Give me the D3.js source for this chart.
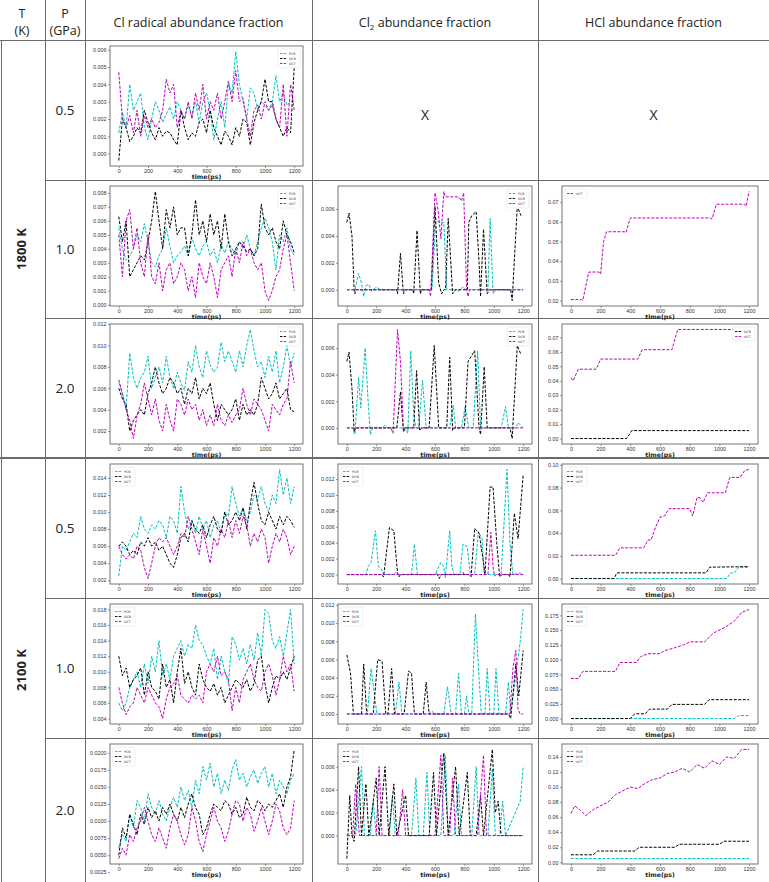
<!DOCTYPE html>
<html>
<head>
<meta charset="utf-8">
<script src="https://cdn.jsdelivr.net/npm/d3@7"></script>
<style>
  body { margin: 0; background: #fff; }
  svg { display: block; }
</style>
</head>
<body>
<div id="table"></div>
<script>
// ---- data ----
const timeSteps = [0,25,50,75,100,125,150,175,200,225,250,275,300,325,350,375,400,425,450,475,500,525,550,575,600,625,650,675,700,725,750,775,800,825,850,875,900,925,950,975,1000,1025,1050,1075,1100,1125,1150,1175,1200];
const xTicks = [0, 200, 400, 600, 800, 1000, 1200];
const seriesNames = ['PCB', 'DCB', 'OCT'];
const pressures = ['0.5', '1.0', '2.0', '0.5', '1.0', '2.0'];
const temperatures = ['1800 K', '2100 K'];
const columnTitles = ['Cl radical abundance fraction', 'Cl2 abundance fraction', 'HCl abundance fraction'];

// Cl radical, 1800 K, 0.5 GPa
const clr1800_05_pcb = [0.0012,0.0024,0.0015,0.0040,0.0025,0.0030,0.0035,0.0015,0.0008,0.0020,0.0030,0.0025,0.0018,0.0023,0.0027,0.0020,0.0030,0.0025,0.0020,0.0028,0.0022,0.0030,0.0018,0.0030,0.0035,0.0025,0.0008,0.0020,0.0030,0.0015,0.0040,0.0035,0.0059,0.0040,0.0030,0.0020,0.0038,0.0035,0.0025,0.0030,0.0028,0.0025,0.0030,0.0045,0.0030,0.0035,0.0028,0.0030,0.0030];
const clr1800_05_dcb = [-0.0004,0.0020,0.0015,0.0007,0.0010,0.0015,0.0012,0.0025,0.0018,0.0012,0.0008,0.0015,0.0010,0.0013,0.0012,0.0008,0.0005,0.0025,0.0015,0.0008,0.0012,0.0010,0.0018,0.0020,0.0012,0.0025,0.0015,0.0010,0.0005,0.0013,0.0010,0.0005,0.0015,0.0010,0.0020,0.0018,0.0005,0.0018,0.0025,0.0030,0.0043,0.0030,0.0030,0.0020,0.0015,0.0010,0.0015,0.0012,0.0050];
const clr1800_05_oct = [0.0047,0.0020,0.0015,0.0022,0.0012,0.0025,0.0010,0.0022,0.0015,0.0020,0.0015,0.0018,0.0025,0.0043,0.0035,0.0040,0.0015,0.0025,0.0020,0.0030,0.0020,0.0035,0.0025,0.0040,0.0020,0.0030,0.0025,0.0035,0.0020,0.0030,0.0042,0.0030,0.0048,0.0030,0.0032,0.0020,0.0010,0.0025,0.0028,0.0020,0.0030,0.0025,0.0028,0.0020,0.0015,0.0040,0.0010,0.0040,0.0025];
// Cl radical, 1800 K, 1.0 GPa
const clr1800_10_pcb = [0.0055,0.0040,0.0032,0.0035,0.0040,0.0050,0.0045,0.0058,0.0045,0.0030,0.0027,0.0035,0.0040,0.0055,0.0042,0.0030,0.0035,0.0038,0.0042,0.0035,0.0048,0.0040,0.0035,0.0042,0.0045,0.0035,0.0040,0.0030,0.0043,0.0037,0.0045,0.0040,0.0035,0.0045,0.0040,0.0050,0.0040,0.0035,0.0045,0.0055,0.0062,0.0055,0.0045,0.0025,0.0050,0.0045,0.0055,0.0040,0.0035];
const clr1800_10_dcb = [0.0063,0.0045,0.0060,0.0020,0.0025,0.0030,0.0035,0.0032,0.0045,0.0060,0.0081,0.0060,0.0040,0.0068,0.0055,0.0070,0.0050,0.0055,0.0055,0.0035,0.0050,0.0075,0.0050,0.0060,0.0045,0.0065,0.0050,0.0060,0.0040,0.0065,0.0045,0.0035,0.0040,0.0045,0.0042,0.0038,0.0040,0.0035,0.0040,0.0072,0.0055,0.0050,0.0055,0.0045,0.0040,0.0060,0.0050,0.0045,0.0037];
const clr1800_10_oct = [0.0050,0.0020,0.0060,0.0068,0.0040,0.0055,0.0030,0.0020,0.0050,0.0020,0.0015,0.0030,0.0010,0.0025,0.0030,0.0015,0.0020,0.0030,0.0025,0.0010,0.0020,0.0005,0.0030,0.0020,0.0015,0.0030,0.0020,0.0005,0.0025,0.0030,0.0035,0.0020,0.0040,0.0030,0.0045,0.0035,0.0040,0.0030,0.0025,0.0030,0.0010,0.0003,0.0010,0.0020,0.0025,0.0040,0.0050,0.0030,0.0010];
// Cl radical, 1800 K, 2.0 GPa
const clr1800_20_pcb = [0.0065,0.0055,0.0040,0.0093,0.0070,0.0060,0.0070,0.0075,0.0090,0.0060,0.0070,0.0080,0.0065,0.0090,0.0070,0.0060,0.0075,0.0065,0.0058,0.0085,0.0075,0.0100,0.0080,0.0070,0.0095,0.0082,0.0075,0.0080,0.0103,0.0085,0.0095,0.0085,0.0075,0.0095,0.0080,0.0100,0.0115,0.0095,0.0080,0.0085,0.0070,0.0090,0.0075,0.0095,0.0065,0.0080,0.0100,0.0080,0.0093];
const clr1800_20_dcb = [0.0060,0.0050,0.0045,0.0020,0.0030,0.0035,0.0040,0.0035,0.0055,0.0065,0.0080,0.0065,0.0055,0.0060,0.0070,0.0065,0.0055,0.0060,0.0045,0.0060,0.0055,0.0070,0.0050,0.0060,0.0055,0.0065,0.0045,0.0030,0.0045,0.0040,0.0035,0.0040,0.0050,0.0030,0.0045,0.0035,0.0040,0.0035,0.0045,0.0070,0.0060,0.0050,0.0055,0.0065,0.0050,0.0055,0.0060,0.0040,0.0038];
const clr1800_20_oct = [0.0068,0.0055,0.0040,0.0030,0.0013,0.0035,0.0045,0.0065,0.0050,0.0035,0.0050,0.0030,0.0020,0.0045,0.0030,0.0020,0.0050,0.0045,0.0035,0.0050,0.0040,0.0045,0.0030,0.0040,0.0025,0.0035,0.0025,0.0045,0.0030,0.0025,0.0035,0.0028,0.0035,0.0040,0.0060,0.0045,0.0035,0.0050,0.0045,0.0040,0.0030,0.0020,0.0045,0.0040,0.0035,0.0045,0.0050,0.0085,0.0065];
// Cl radical, 2100 K, 0.5 GPa
const clr2100_05_pcb = [0.0025,0.0060,0.0055,0.0065,0.0075,0.0070,0.0095,0.0080,0.0075,0.0085,0.0080,0.0090,0.0085,0.0070,0.0095,0.0090,0.0075,0.0130,0.0100,0.0080,0.0090,0.0075,0.0095,0.0080,0.0090,0.0070,0.0085,0.0090,0.0075,0.0100,0.0095,0.0130,0.0110,0.0095,0.0105,0.0090,0.0100,0.0120,0.0115,0.0130,0.0110,0.0100,0.0120,0.0110,0.0150,0.0120,0.0140,0.0110,0.0130];
const clr2100_05_dcb = [0.0060,0.0065,0.0060,0.0050,0.0055,0.0050,0.0065,0.0060,0.0070,0.0060,0.0065,0.0055,0.0060,0.0050,0.0040,0.0035,0.0050,0.0070,0.0075,0.0065,0.0090,0.0080,0.0075,0.0085,0.0070,0.0085,0.0095,0.0080,0.0075,0.0100,0.0085,0.0090,0.0100,0.0090,0.0105,0.0080,0.0110,0.0135,0.0110,0.0090,0.0085,0.0100,0.0090,0.0080,0.0095,0.0085,0.0095,0.0090,0.0082];
const clr2100_05_oct = [0.0060,0.0050,0.0045,0.0050,0.0045,0.0060,0.0055,0.0035,0.0022,0.0040,0.0060,0.0070,0.0065,0.0070,0.0060,0.0050,0.0060,0.0075,0.0070,0.0095,0.0080,0.0065,0.0050,0.0080,0.0060,0.0040,0.0070,0.0060,0.0080,0.0070,0.0090,0.0070,0.0090,0.0075,0.0095,0.0085,0.0060,0.0075,0.0065,0.0080,0.0070,0.0040,0.0060,0.0075,0.0065,0.0080,0.0070,0.0050,0.0060];
// Cl radical, 2100 K, 1.0 GPa
const clr2100_10_pcb = [0.0060,0.0050,0.0060,0.0080,0.0090,0.0100,0.0080,0.0110,0.0085,0.0120,0.0100,0.0140,0.0095,0.0110,0.0090,0.0120,0.0130,0.0140,0.0120,0.0135,0.0130,0.0160,0.0140,0.0135,0.0120,0.0110,0.0130,0.0090,0.0120,0.0100,0.0085,0.0145,0.0135,0.0115,0.0130,0.0110,0.0135,0.0115,0.0150,0.0120,0.0180,0.0175,0.0140,0.0130,0.0145,0.0120,0.0150,0.0180,0.0110];
const clr2100_10_dcb = [0.0120,0.0095,0.0105,0.0080,0.0090,0.0095,0.0105,0.0070,0.0100,0.0080,0.0075,0.0065,0.0110,0.0080,0.0090,0.0060,0.0100,0.0130,0.0085,0.0100,0.0080,0.0070,0.0110,0.0090,0.0080,0.0075,0.0085,0.0070,0.0080,0.0060,0.0070,0.0080,0.0090,0.0085,0.0080,0.0090,0.0075,0.0085,0.0115,0.0120,0.0085,0.0060,0.0080,0.0095,0.0090,0.0100,0.0090,0.0105,0.0120];
const clr2100_10_oct = [0.0080,0.0060,0.0045,0.0055,0.0060,0.0080,0.0070,0.0060,0.0080,0.0070,0.0060,0.0055,0.0040,0.0065,0.0080,0.0085,0.0095,0.0070,0.0065,0.0060,0.0070,0.0065,0.0070,0.0060,0.0100,0.0110,0.0100,0.0120,0.0095,0.0100,0.0090,0.0050,0.0080,0.0060,0.0090,0.0100,0.0110,0.0090,0.0080,0.0075,0.0100,0.0110,0.0095,0.0070,0.0090,0.0120,0.0100,0.0110,0.0075];
// Cl radical, 2100 K, 2.0 GPa
const clr2100_20_pcb = [0.0060,0.0080,0.0070,0.0110,0.0090,0.0130,0.0120,0.0100,0.0140,0.0120,0.0110,0.0130,0.0110,0.0100,0.0120,0.0135,0.0120,0.0150,0.0130,0.0145,0.0120,0.0160,0.0140,0.0180,0.0160,0.0185,0.0150,0.0170,0.0140,0.0160,0.0145,0.0175,0.0190,0.0160,0.0170,0.0150,0.0165,0.0175,0.0155,0.0170,0.0180,0.0150,0.0170,0.0140,0.0160,0.0150,0.0140,0.0160,0.0170];
const clr2100_20_dcb = [0.0050,0.0090,0.0075,0.0110,0.0095,0.0080,0.0110,0.0095,0.0120,0.0105,0.0115,0.0100,0.0120,0.0110,0.0125,0.0110,0.0100,0.0120,0.0105,0.0125,0.0140,0.0120,0.0110,0.0080,0.0090,0.0110,0.0125,0.0120,0.0115,0.0130,0.0125,0.0110,0.0120,0.0105,0.0110,0.0135,0.0120,0.0115,0.0130,0.0125,0.0115,0.0125,0.0120,0.0130,0.0140,0.0120,0.0150,0.0165,0.0205];
const clr2100_20_oct = [0.0045,0.0060,0.0050,0.0080,0.0070,0.0090,0.0100,0.0120,0.0100,0.0080,0.0070,0.0090,0.0075,0.0060,0.0090,0.0110,0.0100,0.0080,0.0065,0.0080,0.0120,0.0100,0.0070,0.0055,0.0080,0.0100,0.0120,0.0100,0.0090,0.0070,0.0085,0.0110,0.0130,0.0125,0.0100,0.0120,0.0110,0.0085,0.0100,0.0120,0.0100,0.0080,0.0100,0.0125,0.0115,0.0090,0.0080,0.0090,0.0130];

// Cl2, [time, value] pairs
const cl2_1800_10_pcb = [[0,0],[55,0],[80,0.0012],[100,0.0005],[115,-0.0005],[130,0.0003],[150,0.0004],[170,-0.0001],[200,0.0002],[230,0],[580,0],[605,0.0053],[625,0.005],[660,0.005],[680,0],[740,0],[760,-0.0001],[790,0.0002],[810,0],[960,0],[975,0.0053],[995,-0.0003],[1010,0],[1200,0]];
const cl2_1800_10_dcb = [[0,0.005],[15,0.0057],[35,0.004],[50,0],[55,-0.0003],[60,0],[340,0],[345,-0.0003],[365,0.0027],[385,-0.0003],[395,0],[450,0],[455,-0.0003],[478,0.0044],[500,-0.0003],[510,0],[575,0],[600,0.0062],[625,0.0005],[645,-0.0003],[660,0],[672,0],[690,0.0053],[720,-0.0003],[740,0],[820,0],[830,0.005],[850,0.0055],[880,0.0058],[900,0.002],[910,-0.0005],[930,0.0045],[955,-0.0003],[970,0],[1115,0],[1125,-0.0008],[1160,0.0062],[1185,0.0055]];
const cl2_1800_10_oct = [[0,0],[560,0],[570,-0.0005],[600,0.0072],[620,0.006],[640,0.0038],[660,0.0073],[670,0.0069],[760,0.0069],[780,0.0066],[795,0.0072],[815,0],[825,-0.0005],[835,0],[1200,0]];
const cl2_1800_20_pcb = [[0,0],[40,0],[55,-0.0005],[80,0.0038],[95,0.0015],[125,0.006],[145,0.002],[160,-0.0005],[175,0],[240,0],[260,0.0002],[280,0],[400,0],[415,-0.0004],[435,0.0058],[455,0.001],[470,0],[490,0],[515,0.0036],[540,0],[700,0],[725,0.0017],[740,0],[780,0],[805,0.0016],[830,0],[860,0],[890,0.0058],[910,0],[1050,0],[1080,0.0016],[1100,0],[1150,0],[1165,0.0004],[1200,0]];
const cl2_1800_20_dcb = [[0,0.005],[15,0.0057],[35,0.003],[50,-0.0003],[60,0],[340,0],[365,0.0027],[385,-0.0003],[400,0],[455,0],[475,0.0043],[495,-0.0002],[510,0],[560,0],[595,0.0062],[625,0],[680,0],[700,0.0053],[720,-0.0002],[735,0],[800,0],[825,0.005],[870,0.0058],[900,0],[910,-0.0005],[935,0.0046],[955,0],[1110,0],[1125,-0.0008],[1160,0.0062],[1185,0.0055]];
const cl2_1800_20_oct = [[0,0],[300,0],[315,-0.0004],[345,0.0074],[365,0.005],[385,0],[1200,0]];
const cl2_2100_05_pcb = [[0,0],[130,0],[145,0.001],[165,0.0015],[195,0.0055],[215,0.001],[235,0.0007],[250,0],[320,0],[335,0.0003],[350,0],[440,0],[460,0.0038],[480,0],[600,0],[640,0.0015],[660,0.001],[670,-0.0004],[700,0.0055],[715,0.001],[730,0],[770,0],[790,0.0038],[820,0.0035],[840,0],[870,0],[895,0.0054],[920,0.0045],[935,0],[1050,0],[1090,0.0132],[1110,0.004],[1130,0],[1180,0.0002],[1200,0]];
const cl2_2100_05_dcb = [[0,0],[240,0],[250,-0.0003],[290,0.0059],[320,0.0055],[345,0.0002],[355,-0.0003],[365,0],[600,0],[610,0.0002],[630,-0.0005],[640,0],[830,0],[845,-0.0003],[870,0.0058],[900,0.0052],[930,0.0015],[940,0],[975,0.011],[995,0.011],[1020,0.004],[1040,-0.0003],[1055,0],[1100,0],[1110,-0.0003],[1140,0.0077],[1165,0.0045],[1200,0.0125]];
const cl2_2100_05_oct = [[0,0],[780,0],[790,0.0003],[800,0],[960,0],[980,0.0053],[995,0.001],[1005,-0.0002],[1015,0],[1200,0]];
const cl2_2100_10_pcb = [[0,0],[140,0],[165,0.005],[185,0.0025],[205,0],[330,0],[355,0.0035],[375,0],[550,0],[580,0.0003],[600,0],[660,0],[685,0.003],[710,0],[740,0],[760,0.0045],[780,0],[800,0],[815,0.002],[830,0],[850,0],[875,0.011],[900,0.004],[915,0],[940,0],[955,0.005],[975,0],[1000,0],[1015,0.005],[1035,0],[1080,0],[1100,0.0035],[1115,0],[1180,0.008],[1200,0.0115]];
const cl2_2100_10_dcb = [[0,0.0065],[25,0.0045],[45,0],[100,0],[115,0.0055],[135,0],[180,0],[210,0.006],[240,0.0058],[265,0],[280,0],[305,0.005],[325,0],[390,0],[420,0.0047],[440,0.0045],[460,0],[520,0],[540,0.0035],[560,0],[1100,0],[1115,-0.0005],[1150,0.0055],[1170,0.002],[1200,0.007]];
const cl2_2100_10_oct = [[0,0],[1110,0],[1130,0.005],[1150,0.007],[1165,0.0005],[1180,0],[1200,0]];
const cl2_2100_20_pcb = [[0,0],[60,0],[100,0.006],[120,0],[160,0],[180,0.003],[200,0],[290,0],[310,0.0035],[330,0],[440,0],[470,0.005],[490,0],[520,0],[545,0.0055],[565,0],[640,0],[670,0.007],[690,0],[730,0],[760,0.0045],[780,0],[850,0],[880,0.006],[900,0],[960,0],[990,0.0058],[1010,0],[1040,0],[1060,0.003],[1080,0],[1180,0.003],[1200,0.006]];
const cl2_2100_20_dcb = [[0,-0.002],[20,0.0035],[35,0],[50,-0.0005],[80,0.006],[100,0],[130,0.0045],[150,0],[200,0.005],[220,0],[260,0.006],[285,0],[320,0.0045],[340,0],[400,0.0035],[420,0],[560,0],[590,0.0055],[610,0],[660,0.0072],[690,0],[740,0.006],[765,0],[820,0.0055],[840,0],[880,0],[910,0.0035],[930,0],[990,0.0075],[1010,0.002],[1030,0.003],[1050,0],[1200,0]];
const cl2_2100_20_oct = [[0,0],[40,0],[60,0.0045],[85,0],[200,0],[220,0.006],[240,0],[350,0],[380,0.004],[400,0],[600,0],[640,0.007],[660,0],[700,0],[720,0.005],[740,0],[890,0],[930,0.007],[950,0],[1200,0]];

// HCl, [time, value] pairs
const hcl_1800_10_oct = [[0,0.0205],[70,0.0205],[80,0.02],[120,0.0345],[190,0.0345],[200,0.0335],[220,0.05],[240,0.055],[260,0.055],[360,0.055],[370,0.0545],[400,0.062],[940,0.062],[950,0.0615],[980,0.069],[1170,0.069],[1180,0.068],[1200,0.0755]];
const hcl_1800_20_dcb = [[0,0],[375,0],[410,0.0055],[1200,0.0055]];
const hcl_1800_20_oct = [[0,0.042],[15,0.04],[50,0.048],[170,0.048],[200,0.055],[450,0.055],[480,0.0615],[680,0.0615],[720,0.0755],[1200,0.0755]];
const hcl_2100_05_pcb = [[0,0],[1050,0],[1075,0.005],[1100,0.005],[1130,0.01],[1200,0.01]];
const hcl_2100_05_dcb = [[0,0],[290,0],[310,0.005],[910,0.005],[935,0.01],[1200,0.0105]];
const hcl_2100_05_oct = [[0,0.0205],[300,0.0205],[330,0.027],[490,0.027],[520,0.034],[540,0.034],[570,0.045],[600,0.054],[630,0.055],[660,0.0615],[800,0.0615],[820,0.055],[850,0.0715],[870,0.071],[890,0.067],[920,0.0755],[1040,0.0755],[1070,0.089],[1140,0.089],[1170,0.095],[1200,0.096]];
const hcl_2100_10_pcb = [[0,0],[1100,0],[1130,0.005],[1200,0.005]];
const hcl_2100_10_dcb = [[0,0],[400,0],[430,0.008],[500,0.008],[530,0.016],[650,0.016],[680,0.024],[900,0.024],[930,0.032],[1200,0.032]];
const hcl_2100_10_oct = [[0,0.068],[50,0.068],[80,0.08],[300,0.08],[330,0.095],[440,0.095],[470,0.105],[520,0.11],[600,0.11],[630,0.115],[700,0.12],[760,0.125],[800,0.13],[900,0.13],[960,0.145],[1040,0.155],[1100,0.165],[1150,0.18],[1200,0.185]];
const hcl_2100_20_pcb = [[0,0.005],[1200,0.005]];
const hcl_2100_20_dcb = [[0,0.01],[150,0.01],[180,0.015],[430,0.015],[460,0.02],[700,0.02],[730,0.024],[1000,0.024],[1030,0.028],[1200,0.028]];
const hcl_2100_20_oct = [[0,0.065],[25,0.075],[60,0.07],[100,0.062],[150,0.07],[200,0.075],[250,0.08],[300,0.09],[350,0.095],[400,0.1],[450,0.098],[500,0.105],[550,0.11],[600,0.112],[650,0.118],[700,0.12],[750,0.125],[800,0.12],[850,0.13],[900,0.125],[950,0.135],[1000,0.13],[1050,0.14],[1100,0.138],[1150,0.15],[1200,0.15]];

// y tick labels per panel
const ticksA = [0, 0.001, 0.002, 0.003, 0.004, 0.005, 0.006];
const ticksB = [0, 0.001, 0.002, 0.003, 0.004, 0.005, 0.006, 0.007, 0.008];
const ticksC = [0.002, 0.004, 0.006, 0.008, 0.010, 0.012];
const ticksD = [0.002, 0.004, 0.006, 0.008, 0.010, 0.012, 0.014];
const ticksE = [0.004, 0.006, 0.008, 0.010, 0.012, 0.014, 0.016, 0.018];
const ticksF = [0.0025, 0.0050, 0.0075, 0.0100, 0.0125, 0.0150, 0.0175, 0.0200];
const ticksCl2Low = [0, 0.002, 0.004, 0.006];
const ticksCl2High = [0, 0.002, 0.004, 0.006, 0.008, 0.010, 0.012];
const ticksHcl1 = [0.02, 0.03, 0.04, 0.05, 0.06, 0.07];
const ticksHcl2 = [0, 0.01, 0.02, 0.03, 0.04, 0.05, 0.06, 0.07];
const ticksHcl3 = [0, 0.02, 0.04, 0.06, 0.08, 0.10];
const ticksHcl4 = [0, 0.025, 0.050, 0.075, 0.100, 0.125, 0.150, 0.175];
const ticksHcl5 = [0, 0.02, 0.04, 0.06, 0.08, 0.10, 0.12, 0.14];

const colors = { PCB: '#00bfbf', DCB: '#000000', OCT: '#bf00bf' };

function grid(vals) { return timeSteps.map((t, i) => [t, vals[i]]); }

// panels: row index, column index
let panels = [
  { r: 0, c: 0, ticks: ticksA, fmt: '.3f', leg: 'right', s: { PCB: grid(clr1800_05_pcb), DCB: grid(clr1800_05_dcb), OCT: grid(clr1800_05_oct) } },
  { r: 1, c: 0, ticks: ticksB, fmt: '.3f', leg: 'right', s: { PCB: grid(clr1800_10_pcb), DCB: grid(clr1800_10_dcb), OCT: grid(clr1800_10_oct) } },
  { r: 2, c: 0, ticks: ticksC, fmt: '.3f', leg: 'right', s: { PCB: grid(clr1800_20_pcb), DCB: grid(clr1800_20_dcb), OCT: grid(clr1800_20_oct) } },
  { r: 3, c: 0, ticks: ticksD, fmt: '.3f', leg: 'left', s: { PCB: grid(clr2100_05_pcb), DCB: grid(clr2100_05_dcb), OCT: grid(clr2100_05_oct) } },
  { r: 4, c: 0, ticks: ticksE, fmt: '.3f', leg: 'left', s: { PCB: grid(clr2100_10_pcb), DCB: grid(clr2100_10_dcb), OCT: grid(clr2100_10_oct) } },
  { r: 5, c: 0, ticks: ticksF, fmt: '.4f', leg: 'left', s: { PCB: grid(clr2100_20_pcb), DCB: grid(clr2100_20_dcb), OCT: grid(clr2100_20_oct) } },
  { r: 1, c: 1, ticks: ticksCl2Low, fmt: '.3f', leg: 'right', s: { PCB: cl2_1800_10_pcb, DCB: cl2_1800_10_dcb, OCT: cl2_1800_10_oct } },
  { r: 2, c: 1, ticks: ticksCl2Low, fmt: '.3f', leg: 'right', s: { PCB: cl2_1800_20_pcb, DCB: cl2_1800_20_dcb, OCT: cl2_1800_20_oct } },
  { r: 3, c: 1, ticks: ticksCl2High, fmt: '.3f', leg: 'left', s: { PCB: cl2_2100_05_pcb, DCB: cl2_2100_05_dcb, OCT: cl2_2100_05_oct } },
  { r: 4, c: 1, ticks: ticksCl2High, fmt: '.3f', leg: 'left', s: { PCB: cl2_2100_10_pcb, DCB: cl2_2100_10_dcb, OCT: cl2_2100_10_oct } },
  { r: 5, c: 1, ticks: ticksCl2Low, fmt: '.3f', leg: 'left', s: { PCB: cl2_2100_20_pcb, DCB: cl2_2100_20_dcb, OCT: cl2_2100_20_oct } },
  { r: 1, c: 2, ticks: ticksHcl1, fmt: '.2f', leg: 'left', s: { OCT: hcl_1800_10_oct } },
  { r: 2, c: 2, ticks: ticksHcl2, fmt: '.2f', leg: 'right', s: { DCB: hcl_1800_20_dcb, OCT: hcl_1800_20_oct } },
  { r: 3, c: 2, ticks: ticksHcl3, fmt: '.2f', leg: 'left', s: { PCB: hcl_2100_05_pcb, DCB: hcl_2100_05_dcb, OCT: hcl_2100_05_oct } },
  { r: 4, c: 2, ticks: ticksHcl4, fmt: '.3f', leg: 'left', s: { PCB: hcl_2100_10_pcb, DCB: hcl_2100_10_dcb, OCT: hcl_2100_10_oct } },
  { r: 5, c: 2, ticks: ticksHcl5, fmt: '.2f', leg: 'left', s: { PCB: hcl_2100_20_pcb, DCB: hcl_2100_20_dcb, OCT: hcl_2100_20_oct } }
];

// ---- layout ----
let W = 769, H = 882;
let rowTops = [40, 180, 318, 458, 598, 738, 882];
let colX = [0, 45, 85, 312, 538, 769];
let frames = [{ x0: 110, x1: 303 }, { x0: 338, x1: 532 }, { x0: 562, x1: 758 }];

let svg = d3.select('#table').append('svg')
  .attr('width', W).attr('height', H)
  .style('font-family', "'Open Sans', 'Liberation Sans', sans-serif");

// table lines
let lines = svg.append('g').attr('stroke', '#6b6b6b').attr('stroke-width', 1);
[45, 85, 312, 538].forEach(x => {
  lines.append('line').attr('x1', x + 0.5).attr('x2', x + 0.5).attr('y1', 0).attr('y2', H);
});
lines.append('line').attr('x1', 1.5).attr('x2', 1.5).attr('y1', 40).attr('y2', H);
lines.append('line').attr('x1', 0).attr('x2', W).attr('y1', 40.5).attr('y2', 40.5);
lines.append('line').attr('x1', 0).attr('x2', W).attr('y1', 458).attr('y2', 458).attr('stroke-width', 2);
[180, 318, 598, 738].forEach(y => {
  lines.append('line').attr('x1', 45).attr('x2', W).attr('y1', y + 0.5).attr('y2', y + 0.5);
});

// header text
let hdr = svg.append('g').attr('fill', '#222').attr('font-size', 12.5).attr('text-anchor', 'middle');
hdr.append('text').attr('x', 22).attr('y', 18).text('T');
hdr.append('text').attr('x', 22).attr('y', 35).text('(K)');
hdr.append('text').attr('x', 65).attr('y', 18).text('P');
hdr.append('text').attr('x', 65).attr('y', 35).text('(GPa)');
hdr.append('text').attr('x', (85 + 312) / 2).attr('y', 27).text(columnTitles[0]);
let cl2t = hdr.append('text').attr('x', (312 + 538) / 2).attr('y', 27);
cl2t.append('tspan').text('Cl');
cl2t.append('tspan').attr('font-size', 8).attr('dy', 3).text('2');
cl2t.append('tspan').attr('dy', -3).text(' abundance fraction');
hdr.append('text').attr('x', (538 + 769) / 2).attr('y', 27).text(columnTitles[2]);

// temperature & pressure labels
temperatures.forEach((t, i) => {
  let cy = i === 0 ? (40 + 458) / 2 : (458 + 882) / 2;
  svg.append('text').attr('transform', 'translate(26,' + cy + ') rotate(-90)')
    .attr('text-anchor', 'middle').attr('font-weight', 'bold').attr('font-size', 13)
    .attr('fill', '#222').text(t);
});
pressures.forEach((p, i) => {
  svg.append('text').attr('x', 65).attr('y', (rowTops[i] + rowTops[i + 1]) / 2 + 5)
    .attr('text-anchor', 'middle').attr('font-size', 13.5).attr('fill', '#222').text(p);
});
// X placeholders
[1, 2].forEach(c => {
  svg.append('text').attr('x', (colX[c + 2] + colX[c + 3]) / 2).attr('y', 120)
    .attr('text-anchor', 'middle').attr('font-size', 14).attr('fill', '#222').text('X');
});

// ---- panels ----
function drawPanel(p) {
  let fx = frames[p.c];
  let top = rowTops[p.r] + 6, bottom = rowTops[p.r] + 126;
  let names = seriesNames.filter(n => p.s[n]);
  let all = [].concat(...names.map(n => p.s[n]));
  let ext = d3.extent(all, d => d[1]);
  let pad = (ext[1] - ext[0]) * 0.05;
  let x = d3.scaleLinear().domain([-60, 1260]).range([fx.x0, fx.x1]);
  let y = d3.scaleLinear().domain([ext[0] - pad, ext[1] + pad]).range([bottom, top]);

  let g = svg.append('g').attr('font-family', "'DejaVu Sans', sans-serif");
  g.append('rect').attr('x', fx.x0).attr('y', top).attr('width', fx.x1 - fx.x0).attr('height', bottom - top)
    .attr('fill', '#fff');

  let line = d3.line().x(d => x(d[0])).y(d => y(d[1]));
  names.forEach(n => {
    g.append('path').datum(p.s[n]).attr('d', line)
      .attr('fill', 'none').attr('stroke', colors[n]).attr('stroke-width', 1)
      .attr('stroke-dasharray', '3,1.5');
  });

  let xa = g.append('g').attr('transform', 'translate(0,' + bottom + ')')
    .call(d3.axisBottom(x).tickValues(xTicks).tickSize(2).tickPadding(1.5).tickFormat(d3.format('d')));
  let ya = g.append('g').attr('transform', 'translate(' + fx.x0 + ',0)')
    .call(d3.axisLeft(y).tickValues(p.ticks).tickSize(2).tickPadding(1.5).tickFormat(d3.format(p.fmt)));
  [xa, ya].forEach(a => {
    a.select('.domain').remove();
    a.selectAll('text').attr('font-size', 5.4).attr('fill', '#333');
    a.selectAll('line').attr('stroke', '#555').attr('stroke-width', 0.6);
  });

  g.append('rect').attr('x', fx.x0).attr('y', top).attr('width', fx.x1 - fx.x0).attr('height', bottom - top)
    .attr('fill', 'none').attr('stroke', '#666').attr('stroke-width', 0.9);

  g.append('text').attr('x', (fx.x0 + fx.x1) / 2).attr('y', bottom + 13)
    .attr('text-anchor', 'middle').attr('font-size', 6.2).attr('font-weight', 'bold')
    .attr('fill', '#222').text('time(ps)');

  // legend
  let lw = 22, lh = 4 + names.length * 5;
  let lx = p.leg === 'right' ? fx.x1 - lw - 3 : fx.x0 + 3;
  let lg = g.append('g').attr('transform', 'translate(' + lx + ',' + (top + 3) + ')');
  lg.append('rect').attr('width', lw).attr('height', lh).attr('fill', '#fff')
    .attr('stroke', '#ddd').attr('stroke-width', 0.5).attr('rx', 1);
  names.forEach((n, i) => {
    let yy = 4.5 + i * 5;
    lg.append('line').attr('x1', 2).attr('x2', 9).attr('y1', yy).attr('y2', yy)
      .attr('stroke', colors[n]).attr('stroke-width', 0.9).attr('stroke-dasharray', '2.5,1.2');
    lg.append('text').attr('x', 11).attr('y', yy + 1.2).attr('font-size', 3.2)
      .attr('fill', '#333').text(n);
  });
}
panels.forEach(drawPanel);
</script>
</body>
</html>
